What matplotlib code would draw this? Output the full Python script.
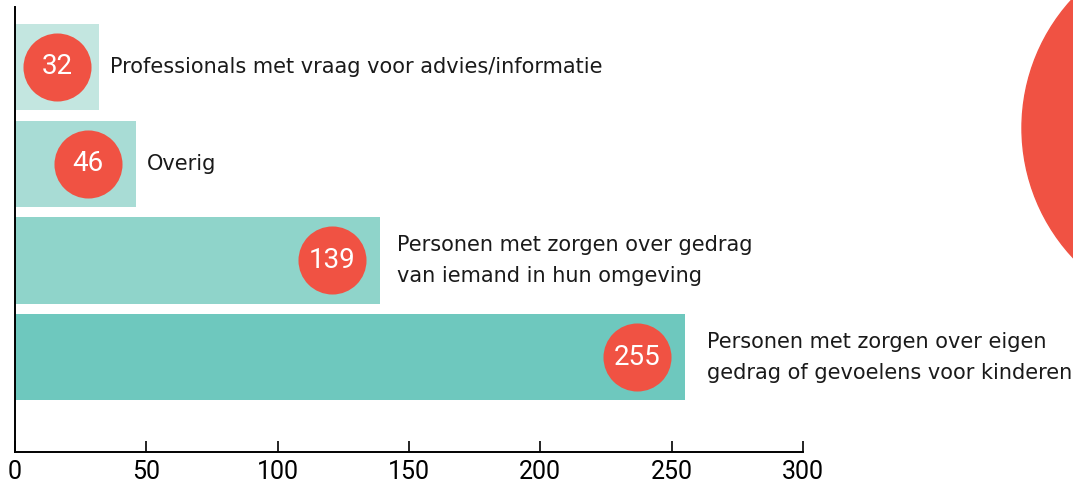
import numpy as np
import matplotlib.pyplot as plt
from matplotlib.patches import Circle

# data
categories = [
    "Professionals met vraag voor advies/informatie",
    "Overig",
    "Personen met zorgen over gedrag\nvan iemand in hun omgeving",
    "Personen met zorgen over eigen\ngedrag of gevoelens voor kinderen",
]
values = [32, 46, 139, 255]
bar_colors = ["#c3e6e0", "#a8dcd5", "#8fd4ca", "#6ec8be"]
xticks = [0, 50, 100, 150, 200, 250, 300]

red = "#f05243"
label_pad = [8, 8, 12, 16]  # points
num_font = ["Roboto", "DejaVu Sans"]

fig = plt.figure(figsize=(10.73, 4.87), dpi=100)
ax = fig.add_axes([15 / 1073, 35 / 487, 788 / 1073, 445 / 487])

y = np.arange(len(values))
ax.barh(y, values, height=0.89, color=bar_colors, zorder=1)

# red circles with the counts
circle_x = [max(v - 18.3, 16) for v in values]
ax.scatter(circle_x, y, s=2400, color=red, zorder=2, linewidths=0)
for cx, yi, v in zip(circle_x, y, values):
    ax.text(cx, yi, str(v), color="white", fontsize=20, ha="center", va="center",
            family=num_font, zorder=3)

for yi, v, lab, pad in zip(y, values, categories, label_pad):
    ax.annotate(lab, (v, yi), xytext=(pad, 0), textcoords="offset points",
                ha="left", va="center", fontsize=15, linespacing=1.7, color="#1a1a1a")

ax.set_xlim(0, 300)
ax.set_ylim(3.98, -0.62)
ax.set_xticks(xticks)
ax.set_xticklabels([str(t) for t in xticks], fontsize=18, family=num_font)
ax.set_yticks([])
ax.tick_params(axis="x", direction="in", length=8, width=1.2, pad=6)
for s in ["top", "right"]:
    ax.spines[s].set_visible(False)
for s in ["left", "bottom"]:
    ax.spines[s].set_linewidth(1.4)

# decorative big circle at the right edge (pixel coordinates)
fig.patches.append(Circle((1212, 487 - 128), 190, transform=None, color=red, zorder=0))

fig.savefig("out.png", dpi=100)
